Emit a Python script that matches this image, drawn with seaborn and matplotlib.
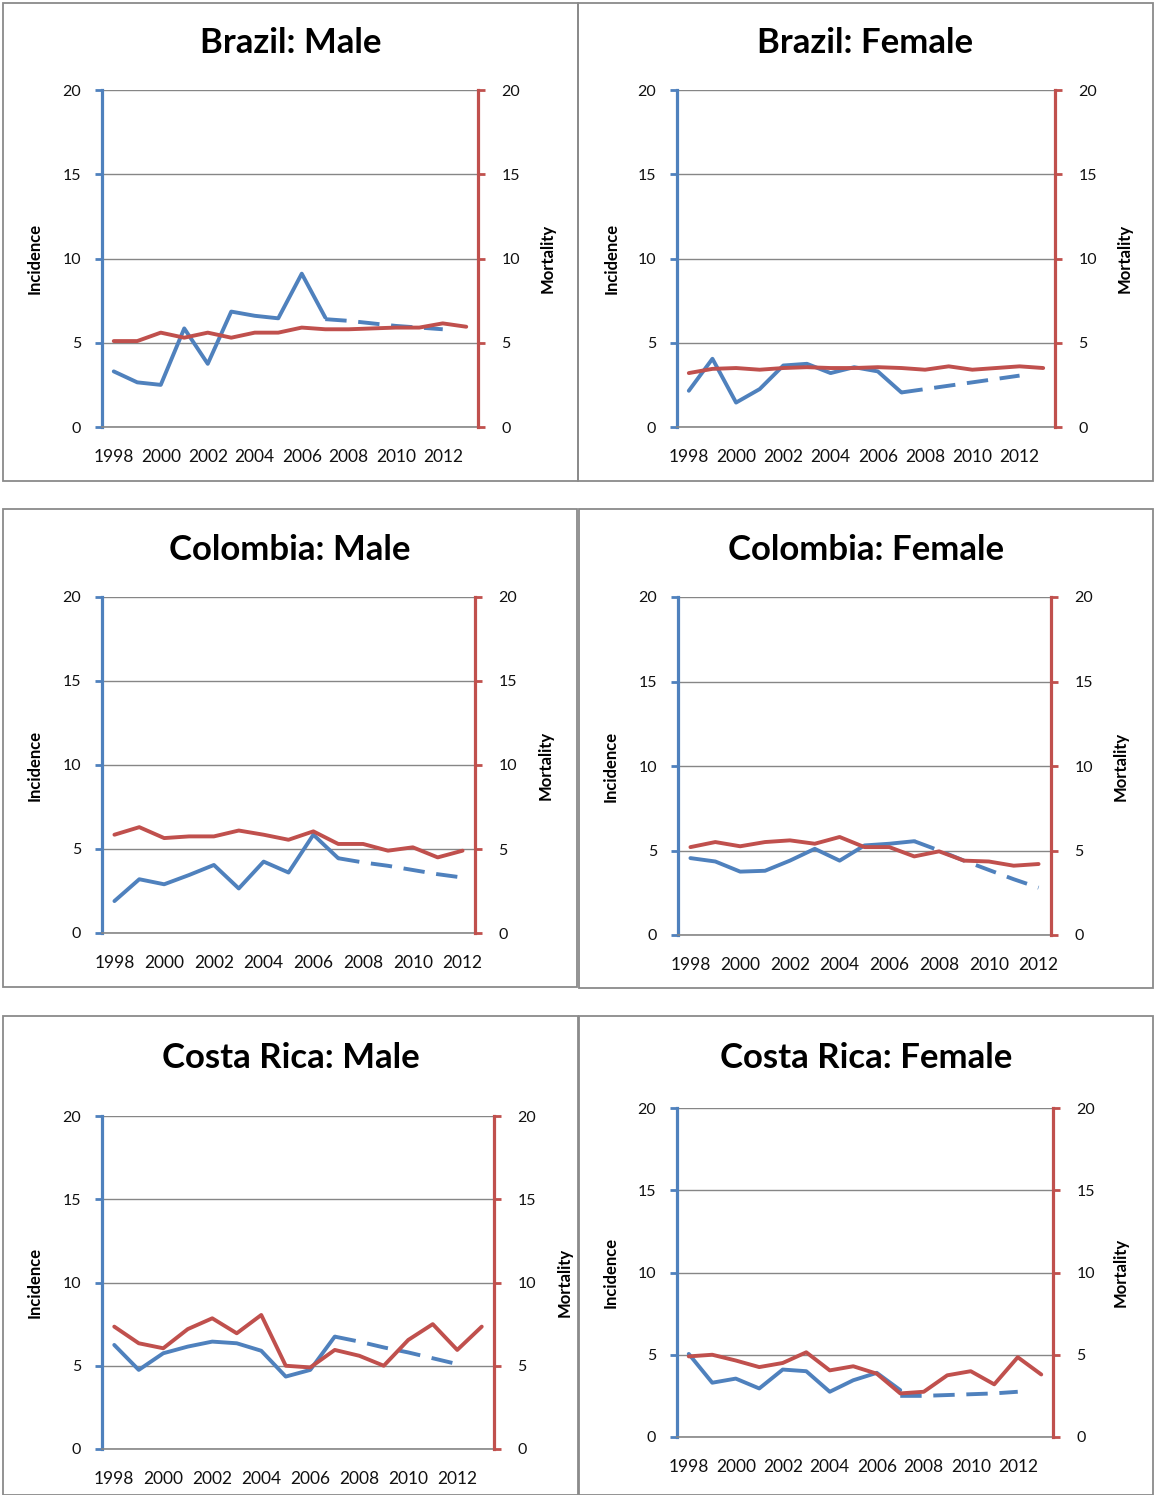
import matplotlib
matplotlib.use("Agg")
import matplotlib.pyplot as plt
import seaborn as sns
import numpy as np
from matplotlib.patches import Rectangle

# ---------------- data ----------------
years_16 = [1998, 1999, 2000, 2001, 2002, 2003, 2004, 2005, 2006, 2007, 2008, 2009, 2010, 2011, 2012, 2013]
years_15 = [1998, 1999, 2000, 2001, 2002, 2003, 2004, 2005, 2006, 2007, 2008, 2009, 2010, 2011, 2012]
obs_years = [1998, 1999, 2000, 2001, 2002, 2003, 2004, 2005, 2006, 2007]
proj_years = [2007, 2008, 2009, 2010, 2011, 2012]
xtick_labels = [1998, 2000, 2002, 2004, 2006, 2008, 2010, 2012]

titles = ["Brazil: Male", "Brazil: Female", "Colombia: Male",
          "Colombia: Female", "Costa Rica: Male", "Costa Rica: Female"]

brazil_male_inc = [3.3, 2.65, 2.5, 5.85, 3.75, 6.85, 6.6, 6.45, 9.1, 6.5]
brazil_male_proj = [6.4, 6.3, 6.15, 6.0, 5.9, 5.8]
brazil_male_mort = [5.1, 5.1, 5.6, 5.3, 5.6, 5.3, 5.6, 5.6, 5.9, 5.8, 5.8, 5.85, 5.9, 5.9, 6.15, 5.95]

brazil_female_inc = [2.15, 4.05, 1.45, 2.25, 3.65, 3.75, 3.2, 3.55, 3.3, 2.05]
brazil_female_proj = [2.05, 2.25, 2.45, 2.65, 2.85, 3.05]
brazil_female_mort = [3.2, 3.45, 3.5, 3.4, 3.5, 3.55, 3.5, 3.5, 3.55, 3.5, 3.4, 3.6, 3.4, 3.5, 3.6, 3.5]

colombia_male_inc = [1.9, 3.2, 2.9, 3.45, 4.05, 2.65, 4.25, 3.6, 5.85, 4.45]
colombia_male_proj = [4.45, 4.2, 4.0, 3.75, 3.5, 3.3]
colombia_male_mort = [5.85, 6.3, 5.65, 5.75, 5.75, 6.1, 5.85, 5.55, 6.05, 5.3, 5.3, 4.9, 5.1, 4.5, 4.9]

colombia_female_inc = [4.55, 4.35, 3.75, 3.8, 4.4, 5.1, 4.4, 5.3, 5.4, 5.55]
colombia_female_proj = [5.55, 5.0, 4.4, 3.85, 3.3, 2.8]
colombia_female_mort = [5.2, 5.5, 5.25, 5.5, 5.6, 5.4, 5.8, 5.2, 5.2, 4.65, 4.95, 4.4, 4.35, 4.1, 4.2]

costa_male_inc = [6.25, 4.75, 5.75, 6.15, 6.45, 6.35, 5.9, 4.35, 4.75, 6.75]
costa_male_proj = [6.75, 6.45, 6.1, 5.8, 5.45, 5.1]
costa_male_mort = [7.35, 6.35, 6.05, 7.2, 7.85, 6.95, 8.05, 5.0, 4.9, 5.95, 5.6, 5.0, 6.55, 7.5, 5.95, 7.35]

costa_female_inc = [5.05, 3.3, 3.55, 2.95, 4.1, 4.0, 2.75, 3.45, 3.9, 2.85]
costa_female_proj = [2.5, 2.5, 2.55, 2.6, 2.65, 2.75]
costa_female_mort = [4.9, 5.0, 4.65, 4.25, 4.5, 5.15, 4.05, 4.3, 3.85, 2.65, 2.75, 3.75, 4.0, 3.2, 4.85, 3.8]

series = [
    (years_16, brazil_male_inc, brazil_male_proj, brazil_male_mort),
    (years_16, brazil_female_inc, brazil_female_proj, brazil_female_mort),
    (years_15, colombia_male_inc, colombia_male_proj, colombia_male_mort),
    (years_15, colombia_female_inc, colombia_female_proj, colombia_female_mort),
    (years_16, costa_male_inc, costa_male_proj, costa_male_mort),
    (years_16, costa_female_inc, costa_female_proj, costa_female_mort),
]

# ---------------- layout (pixels) ----------------
W, H = 1154, 1495
boxes = [(3, 3, 578, 481), (578, 3, 1153, 481),
         (3, 509, 577, 987), (579, 509, 1153, 988),
         (3, 1016, 578, 1495), (579, 1016, 1153, 1495)]
axes_px = [(102, 90, 478, 427), (677, 90, 1055, 427),
           (102, 597, 475, 933), (678, 597, 1051, 935),
           (102, 1116, 494, 1449), (677, 1108, 1053, 1437)]
title_y = [43, 43, 550, 550, 1058, 1058]
inc_label_x = [43, 620, 43, 619, 43, 619]
mort_label_x = [540, 1117, 538, 1113, 557, 1113]

BLUE = "#4F81BD"
RED = "#C0504D"
GRID = "#868686"
TXT = "#111111"
LW = 2.8

sns.set_style("white")
plt.rcParams["font.family"] = ["Lato", "DejaVu Sans"]

fig = plt.figure(figsize=(W / 100, H / 100), dpi=100)
fig.patch.set_facecolor("white")

for i in range(6):
    yrs, inc, proj, mort = series[i]
    l, t, r, b = axes_px[i]
    ax = fig.add_axes([l / W, 1 - b / H, (r - l) / W, (b - t) / H])
    ax2 = ax.twinx()

    sns.lineplot(x=obs_years, y=inc, ax=ax, color=BLUE, linewidth=LW)
    sns.lineplot(x=proj_years, y=proj, ax=ax, color=BLUE, linewidth=LW,
                 linestyle=(0, (5.5, 3)))
    sns.lineplot(x=yrs, y=mort, ax=ax2, color=RED, linewidth=LW)

    for a in (ax, ax2):
        a.set_ylim(0, 20)
        a.set_xlim(yrs[0] - 0.5, yrs[-1] + 0.5)
        a.set_yticks([0, 5, 10, 15, 20])
        a.set_xlabel("")

    ax.yaxis.grid(True, color=GRID, linewidth=1.0)
    ax.set_axisbelow(True)
    ax.xaxis.grid(False)

    ax.set_xticks(xtick_labels)
    ax.set_xticklabels([str(v) for v in xtick_labels])
    ax.set_xticks(np.arange(yrs[0] - 0.5, yrs[-1] + 1.0, 1.0), minor=True)
    ax.tick_params(axis="x", which="major", length=0, pad=16, labelsize=12.5, labelcolor=TXT)
    ax.tick_params(axis="x", which="minor", length=5, width=1.0, color=GRID, direction="out")
    ax.tick_params(axis="y", which="major", length=5, width=2, color=BLUE, direction="out",
                   labelsize=11.5, labelcolor=TXT, pad=10)
    ax2.tick_params(axis="y", which="major", length=5, width=2, color=RED, direction="out",
                    labelsize=11.5, labelcolor=TXT, pad=12)

    for s in ("top", "right"):
        ax.spines[s].set_visible(False)
    ax.spines["left"].set_color(BLUE)
    ax.spines["left"].set_linewidth(2.3)
    ax.spines["bottom"].set_color(GRID)
    ax.spines["bottom"].set_linewidth(1.2)
    for s in ("top", "left", "bottom"):
        ax2.spines[s].set_visible(False)
    ax2.spines["right"].set_color(RED)
    ax2.spines["right"].set_linewidth(2.3)

    ax.set_ylabel("Incidence", fontsize=12, fontweight="bold", color="black")
    ax.yaxis.set_label_coords((inc_label_x[i] - l) / (r - l), 0.5)
    ax2.set_ylabel("Mortality", fontsize=12, fontweight="bold", color="black", rotation=90)
    ax2.yaxis.set_label_coords((mort_label_x[i] - l) / (r - l), 0.5)

    bl, bt, br, bb = boxes[i]
    fig.text((bl + br) / 2 / W, 1 - title_y[i] / H, titles[i], ha="center", va="center",
             fontsize=25, fontweight="bold", color="black")
    fig.patches.append(Rectangle((bl / W, 1 - bb / H), (br - bl) / W, (bb - bt) / H,
                                 transform=fig.transFigure, fill=False,
                                 edgecolor="#8a8a8a", linewidth=1.3))

fig.savefig("out.png", dpi=100, facecolor="white")
